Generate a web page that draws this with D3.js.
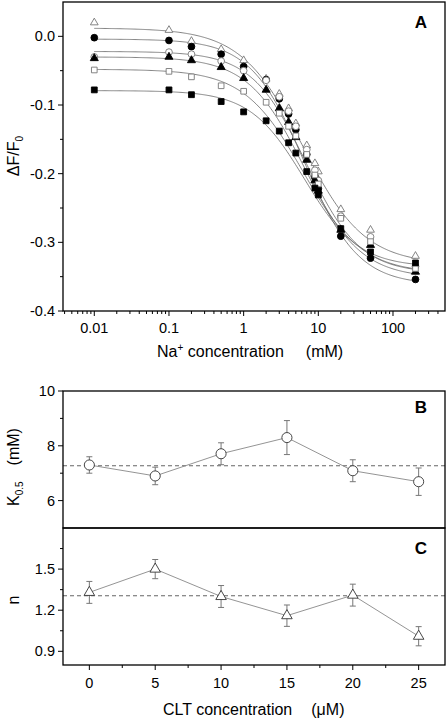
<!DOCTYPE html>
<html><head><meta charset="utf-8">
<script src="https://cdn.jsdelivr.net/npm/d3@7"></script>
<style>body{margin:0;background:#fff}svg{display:block}text{font-family:"Liberation Sans",Arial,sans-serif}</style>
</head><body>
<svg id="c" width="448" height="719"></svg>
<script>
// ---------- Panel A data ----------
const naConc = [0.01, 0.1, 0.2, 0.5, 1, 2, 3, 4, 5, 7, 9, 10, 20, 50, 200];
const seriesNames = ["openTri", "fillCirc", "openCirc", "fillTri", "openSq", "fillSq"];
const openTri  = [0.020, 0.009, -0.007, -0.019, -0.035, -0.062, -0.084, -0.105, -0.127, -0.159, -0.185, -0.197, -0.252, -0.282, -0.320];
const fillCirc = [-0.002, -0.006, -0.015, -0.026, -0.044, -0.063, -0.091, -0.113, -0.136, -0.172, -0.205, -0.222, -0.291, -0.323, -0.354];
const openCirc = [-0.030, -0.023, -0.026, -0.036, -0.050, -0.064, -0.088, -0.109, -0.131, -0.165, -0.195, -0.210, -0.262, -0.292, -0.335];
const fillTri  = [-0.032, -0.030, -0.035, -0.045, -0.061, -0.078, -0.105, -0.125, -0.147, -0.180, -0.210, -0.225, -0.282, -0.304, -0.343];
const openSq   = [-0.049, -0.051, -0.059, -0.072, -0.080, -0.096, -0.112, -0.131, -0.145, -0.172, -0.202, -0.215, -0.265, -0.299, -0.338];
const fillSq   = [-0.078, -0.078, -0.085, -0.095, -0.110, -0.123, -0.138, -0.155, -0.170, -0.197, -0.221, -0.231, -0.280, -0.314, -0.330];
// Hill-fit parameters of the drawn curves (top, bottom, K, n)
const fitTop    = [0.012, -0.004, -0.022, -0.030, -0.048, -0.079];
const fitBottom = [-0.332, -0.362, -0.345, -0.352, -0.345, -0.336];
const fitK      = [6.2, 6.5, 6.8, 6.5, 6.2, 6.5];
const fitN      = [1.05, 1.2, 1.2, 1.15, 1.1, 1.2];
const xTicksA = [0.01, 0.1, 1, 10, 100];
const xTickLabelsA = ["0.01", "0.1", "1", "10", "100"];
const yTicksA = [-0.4, -0.3, -0.2, -0.1, 0.0];

// ---------- Panel B / C data ----------
const cltConc = [0, 5, 10, 15, 20, 25];
const k05 = [7.30, 6.90, 7.71, 8.30, 7.09, 6.69];
const k05Err = [0.30, 0.32, 0.40, 0.62, 0.40, 0.50];
const k05Mean = 7.27;
const hillN = [1.33, 1.50, 1.30, 1.16, 1.31, 1.01];
const hillNErr = [0.08, 0.07, 0.08, 0.078, 0.08, 0.07];
const hillNMean = 1.306;
const yTicksB = [6, 8, 10];
const yTicksC = [0.9, 1.2, 1.5];
const xTicksC = [0, 5, 10, 15, 20, 25];

const allA = [openTri, fillCirc, openCirc, fillTri, openSq, fillSq];
const svg = d3.select("#c");
const L = 63, R = 445;
const TF = 14.5, LF = 16;

// ---------- Panel A ----------
const xA = d3.scaleLog().domain([0.00381, 497]).range([L, R]);
const yA = d3.scaleLinear().domain([-0.4, 0.05]).range([311, 2]);
const gA = svg.append("g");

const curveXs = d3.range(0, 301).map(i => Math.pow(10, Math.log10(0.01) + i * (Math.log10(200) - Math.log10(0.01)) / 300));
const line = d3.line().x(d => xA(d[0])).y(d => yA(d[1]));
seriesNames.forEach((s, i) => {
  const pts = curveXs.map(x => [x, fitBottom[i] + (fitTop[i] - fitBottom[i]) / (1 + Math.pow(x / fitK[i], fitN[i]))]);
  gA.append("path").attr("d", line(pts)).attr("fill", "none").attr("stroke", "#666").attr("stroke-width", 0.8);
});
const symA = {
  openTri: {t: d3.symbolTriangle, s: 26, fill: "#fff", stroke: "#777"},
  fillCirc: {t: d3.symbolCircle, s: 36, fill: "#000", stroke: "#000"},
  openCirc: {t: d3.symbolCircle, s: 36, fill: "#fff", stroke: "#777"},
  fillTri: {t: d3.symbolTriangle, s: 28, fill: "#000", stroke: "#000"},
  openSq: {t: d3.symbolSquare, s: 32, fill: "#fff", stroke: "#777"},
  fillSq: {t: d3.symbolSquare, s: 34, fill: "#000", stroke: "#000"}
};
seriesNames.forEach((s, i) => {
  const st = symA[s];
  gA.selectAll(null).data(naConc.map((x, j) => [x, allA[i][j]])).enter().append("path")
    .attr("transform", d => `translate(${xA(d[0])},${yA(d[1])})`)
    .attr("d", d3.symbol().type(st.t).size(st.s))
    .attr("fill", st.fill).attr("stroke", st.stroke).attr("stroke-width", 0.9);
});
gA.append("rect").attr("x", L).attr("y", 2).attr("width", R - L).attr("height", 309)
  .attr("fill", "none").attr("stroke", "#000").attr("stroke-width", 1.3);
const minorA = [];
for (let e = -3; e <= 2; e++) for (let k = 2; k <= 9; k++) { const v = k * Math.pow(10, e); if (v > 0.00381 && v < 497) minorA.push(v); }
const axA = gA.append("g").attr("transform", "translate(0,311)");
axA.selectAll(null).data(minorA).enter().append("line").attr("x1", d => xA(d)).attr("x2", d => xA(d)).attr("y1", 0).attr("y2", 3).attr("stroke", "#000");
axA.selectAll(null).data(xTicksA).enter().append("line").attr("x1", d => xA(d)).attr("x2", d => xA(d)).attr("y1", 0).attr("y2", 5).attr("stroke", "#000");
axA.selectAll(null).data(xTicksA).enter().append("text").attr("x", d => xA(d)).attr("y", 22).attr("text-anchor", "middle")
  .attr("font-size", TF).text((d, i) => xTickLabelsA[i]);
const ayA = gA.append("g").attr("transform", `translate(${L},0)`);
ayA.selectAll(null).data(d3.range(-0.35, 0.04, 0.1)).enter().append("line").attr("y1", d => yA(d)).attr("y2", d => yA(d)).attr("x1", 0).attr("x2", -3).attr("stroke", "#000");
ayA.selectAll(null).data(yTicksA).enter().append("line").attr("y1", d => yA(d)).attr("y2", d => yA(d)).attr("x1", 0).attr("x2", -5).attr("stroke", "#000");
ayA.selectAll(null).data(yTicksA).enter().append("text").attr("x", -8).attr("y", d => yA(d) + 5).attr("text-anchor", "end")
  .attr("font-size", TF).text(d => d.toFixed(1));
const xl = gA.append("text").attr("x", 157).attr("y", 357).attr("font-size", LF);
xl.append("tspan").text("Na");
xl.append("tspan").attr("dy", -6).attr("font-size", 10).text("+");
xl.append("tspan").attr("dy", 6).text(" concentration");
xl.append("tspan").attr("dx", 22).text("(mM)");
const yl = gA.append("text").attr("transform", "translate(19,156) rotate(-90)").attr("text-anchor", "middle").attr("font-size", LF);
yl.append("tspan").text("\u0394F/F");
yl.append("tspan").attr("dy", 4).attr("font-size", 10).text("0");
gA.append("text").attr("x", 421).attr("y", 28).attr("text-anchor", "middle").attr("font-size", 17).attr("font-weight", "bold").text("A");

// ---------- Panels B & C ----------
const xC = d3.scaleLinear().domain([-2, 27]).range([L, R]);
const yB = d3.scaleLinear().domain([5, 10]).range([528, 391]);
const yC = d3.scaleLinear().domain([0.8, 1.8]).range([665, 528]);

function panel(ys, vals, errs, mean, sym, symSize, top, bottom) {
  const g = svg.append("g");
  g.append("line").attr("x1", L).attr("x2", R).attr("y1", ys(mean)).attr("y2", ys(mean))
    .attr("stroke", "#666").attr("stroke-width", 1.1).attr("stroke-dasharray", "4,3");
  g.append("path").attr("d", d3.line().x((d, i) => xC(cltConc[i])).y(d => ys(d))(vals))
    .attr("fill", "none").attr("stroke", "#888").attr("stroke-width", 0.9);
  vals.forEach((v, i) => {
    const x = xC(cltConc[i]);
    g.append("line").attr("x1", x).attr("x2", x).attr("y1", ys(v + errs[i])).attr("y2", ys(v - errs[i])).attr("stroke", "#777");
    [v + errs[i], v - errs[i]].forEach(e => g.append("line").attr("x1", x - 3).attr("x2", x + 3).attr("y1", ys(e)).attr("y2", ys(e)).attr("stroke", "#777"));
  });
  g.selectAll(null).data(vals).enter().append("path")
    .attr("transform", (d, i) => `translate(${xC(cltConc[i])},${ys(d)})`)
    .attr("d", d3.symbol().type(sym).size(symSize)).attr("fill", "#fff").attr("stroke", "#333").attr("stroke-width", 0.9);
  g.append("rect").attr("x", L).attr("y", top).attr("width", R - L).attr("height", bottom - top)
    .attr("fill", "none").attr("stroke", "#000").attr("stroke-width", 1.3);
  return g;
}
const gB = panel(yB, k05, k05Err, k05Mean, d3.symbolCircle, 80, 391, 528);
const gC = panel(yC, hillN, hillNErr, hillNMean, d3.symbolTriangle, 48, 528, 665);

gB.selectAll(null).data([7, 9]).enter().append("line").attr("x1", L).attr("x2", L - 3).attr("y1", d => yB(d)).attr("y2", d => yB(d)).attr("stroke", "#000");
gB.selectAll(null).data(yTicksB).enter().append("line").attr("x1", L).attr("x2", L - 5).attr("y1", d => yB(d)).attr("y2", d => yB(d)).attr("stroke", "#000");
gB.selectAll(null).data(yTicksB).enter().append("text").attr("x", L - 8).attr("y", d => yB(d) + 5).attr("text-anchor", "end").attr("font-size", TF).text(d => d);
const ylB = gB.append("text").attr("transform", "translate(19,467) rotate(-90)").attr("text-anchor", "middle").attr("font-size", LF);
ylB.append("tspan").text("K");
ylB.append("tspan").attr("dy", 4).attr("font-size", 10).text("0.5");
ylB.append("tspan").attr("dy", -4).attr("dx", 16).text("(mM)");
gB.append("text").attr("x", 421).attr("y", 413).attr("text-anchor", "middle").attr("font-size", 17).attr("font-weight", "bold").text("B");

gC.selectAll(null).data([1.05, 1.35, 1.65]).enter().append("line").attr("x1", L).attr("x2", L - 3).attr("y1", d => yC(d)).attr("y2", d => yC(d)).attr("stroke", "#000");
gC.selectAll(null).data(yTicksC).enter().append("line").attr("x1", L).attr("x2", L - 5).attr("y1", d => yC(d)).attr("y2", d => yC(d)).attr("stroke", "#000");
gC.selectAll(null).data(yTicksC).enter().append("text").attr("x", L - 8).attr("y", d => yC(d) + 5).attr("text-anchor", "end").attr("font-size", TF).text(d => d.toFixed(1));
gC.append("text").attr("transform", "translate(19,600) rotate(-90)").attr("text-anchor", "middle").attr("font-size", LF).text("n");
gC.append("text").attr("x", 421).attr("y", 554).attr("text-anchor", "middle").attr("font-size", 17).attr("font-weight", "bold").text("C");
gC.selectAll(null).data([2.5, 7.5, 12.5, 17.5, 22.5]).enter().append("line").attr("x1", d => xC(d)).attr("x2", d => xC(d)).attr("y1", 665).attr("y2", 668).attr("stroke", "#000");
gC.selectAll(null).data(xTicksC).enter().append("line").attr("x1", d => xC(d)).attr("x2", d => xC(d)).attr("y1", 665).attr("y2", 670).attr("stroke", "#000");
gC.selectAll(null).data(xTicksC).enter().append("text").attr("x", d => xC(d)).attr("y", 688).attr("text-anchor", "middle").attr("font-size", TF).text(d => d);
const xlC = gC.append("text").attr("x", 163).attr("y", 715).attr("font-size", LF);
xlC.append("tspan").text("CLT concentration");
xlC.append("tspan").attr("dx", 19).text("(\u03BCM)");
</script>
</body></html>
